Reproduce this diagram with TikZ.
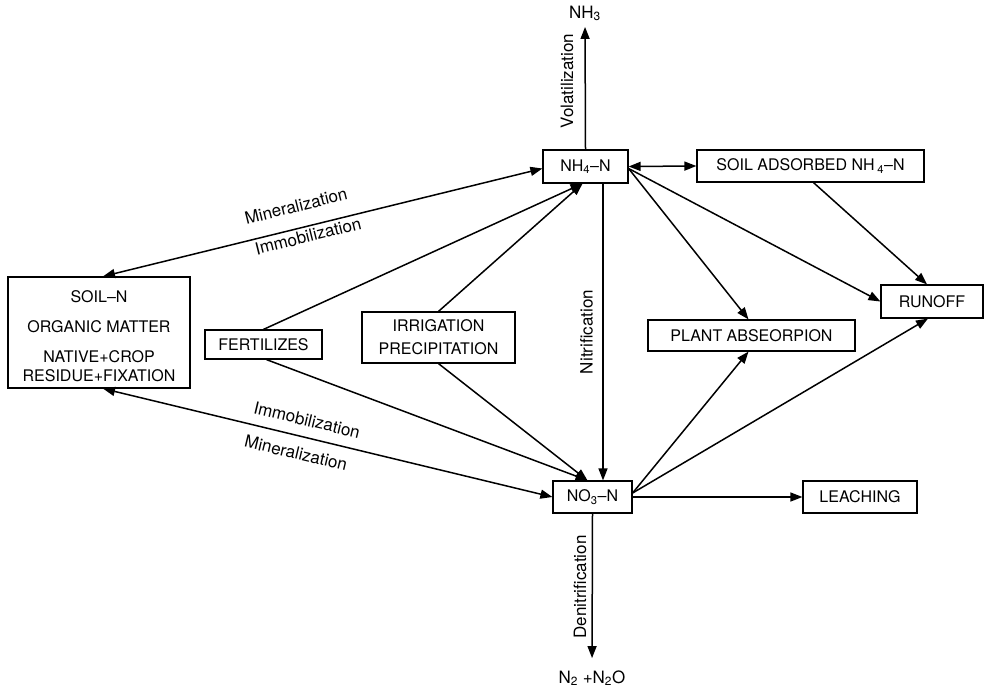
\documentclass[tikz,border=0pt]{standalone}
\usepackage{fontspec}
\setmainfont{TeX Gyre Heros}
\usetikzlibrary{arrows.meta}
\begin{document}
\begin{tikzpicture}[x=1pt,y=-1pt,
  box/.style={draw, line width=1.2pt, inner sep=0pt, align=center, font=\fontsize{16}{19}\selectfont},
  lbl/.style={inner sep=0pt, font=\fontsize{17}{20}\selectfont},
  conn/.style={line width=1.5pt, -{Triangle[length=12pt,width=9pt]}},
  dbl/.style={line width=1.5pt, {Triangle[length=12pt,width=9pt]}-{Triangle[length=12pt,width=9pt]}},
]
\useasboundingbox (0,0) rectangle (985,688);
% boxes
\node[box, minimum width=85pt, minimum height=33pt] (nh4) at (585.5,166.5) {NH\textsubscript{4}–N};
\node[box, minimum width=227pt, minimum height=32pt] (sa) at (810.5,166) {SOIL ADSORBED NH\,\textsubscript{4}–N};
\node[box, minimum width=102pt, minimum height=33pt] (runoff) at (932,301.5) {RUNOFF};
\node[box, minimum width=207pt, minimum height=31pt] (plant) at (751.5,335.5) {PLANT ABSEORPION};
\node[box, minimum width=153pt, minimum height=51pt, font=\fontsize{16}{23}\selectfont] (irr) at (438.5,337.5) {IRRIGATION\\PRECIPITATION};
\node[box, minimum width=117pt, minimum height=29pt] (fert) at (263.5,344.5) {FERTILIZES};
\node[box, minimum width=182pt, minimum height=111pt] (soiln) at (99,332.5) {\rule{0pt}{20pt}SOIL–N\\[11pt]ORGANIC MATTER\\[11pt]NATIVE+CROP\\RESIDUE+FIXATION};
\node[box, minimum width=79pt, minimum height=32pt] (no3) at (592.5,497) {NO\textsubscript{3}–N};
\node[box, minimum width=114pt, minimum height=32pt] (leach) at (860,497) {LEACHING};
% end texts
\node[lbl, anchor=base] (nh3) at (585,18) {NH\textsubscript{3}};
\node[lbl, anchor=base] (n2) at (592,683) {N\textsubscript{2} +N\textsubscript{2}O};
% process labels
\node[lbl, rotate=90] (vol) at (567,81) {Volatilization};
\node[lbl, rotate=90] (nit) at (586.5,332) {Nitrification};
\node[lbl, rotate=90] (den) at (580,587) {Denitrification};
\node[lbl, rotate=14] (min1) at (296,206) {Mineralization};
\node[lbl, rotate=14] (imm1) at (308,236) {Immobilization};
\node[lbl, rotate=-13.4] (imm2) at (307,420) {Immobilization};
\node[lbl, rotate=-13.4] (min2) at (296,453) {Mineralization};
% connectors
\draw[conn, shorten >=6pt] (nh4.north) -- (nh3.south);
\draw[dbl] (nh4.east) -- (sa.west);
\draw[dbl] ([xshift=4pt]soiln.north) -- ([yshift=-2pt]nh4.west);
\draw[dbl] ([xshift=4pt]soiln.south) -- (no3.west);
\draw[conn] (fert.north) -- ([xshift=-3pt]nh4.south);
\draw[conn] (irr.north) -- ([xshift=-3pt]nh4.south);
\draw[conn] ([xshift=3pt]fert.south) -- ([xshift=-5pt]no3.north);
\draw[conn] (irr.south) -- ([xshift=-5pt]no3.north);
\draw[conn] ([xshift=17.5pt]nh4.south) -- ([xshift=17.5pt]nh4.south |- no3.north);
\draw[conn] ([yshift=-2pt]nh4.east) -- ([xshift=-3pt]plant.north);
\draw[conn] ([yshift=-2pt]nh4.east) -- (runoff.west);
\draw[conn] ([xshift=3pt]sa.south) -- ([xshift=-5pt]runoff.north);
\draw[conn] ([yshift=4pt]no3.east) -- ([xshift=-3pt]plant.south);
\draw[conn] ([yshift=4pt]no3.east) -- ([xshift=-4pt]runoff.south);
\draw[conn] (no3.east) -- (leach.west);
\draw[conn, shorten >=12pt] (no3.south) -- (n2.north);
\end{tikzpicture}
\end{document}
